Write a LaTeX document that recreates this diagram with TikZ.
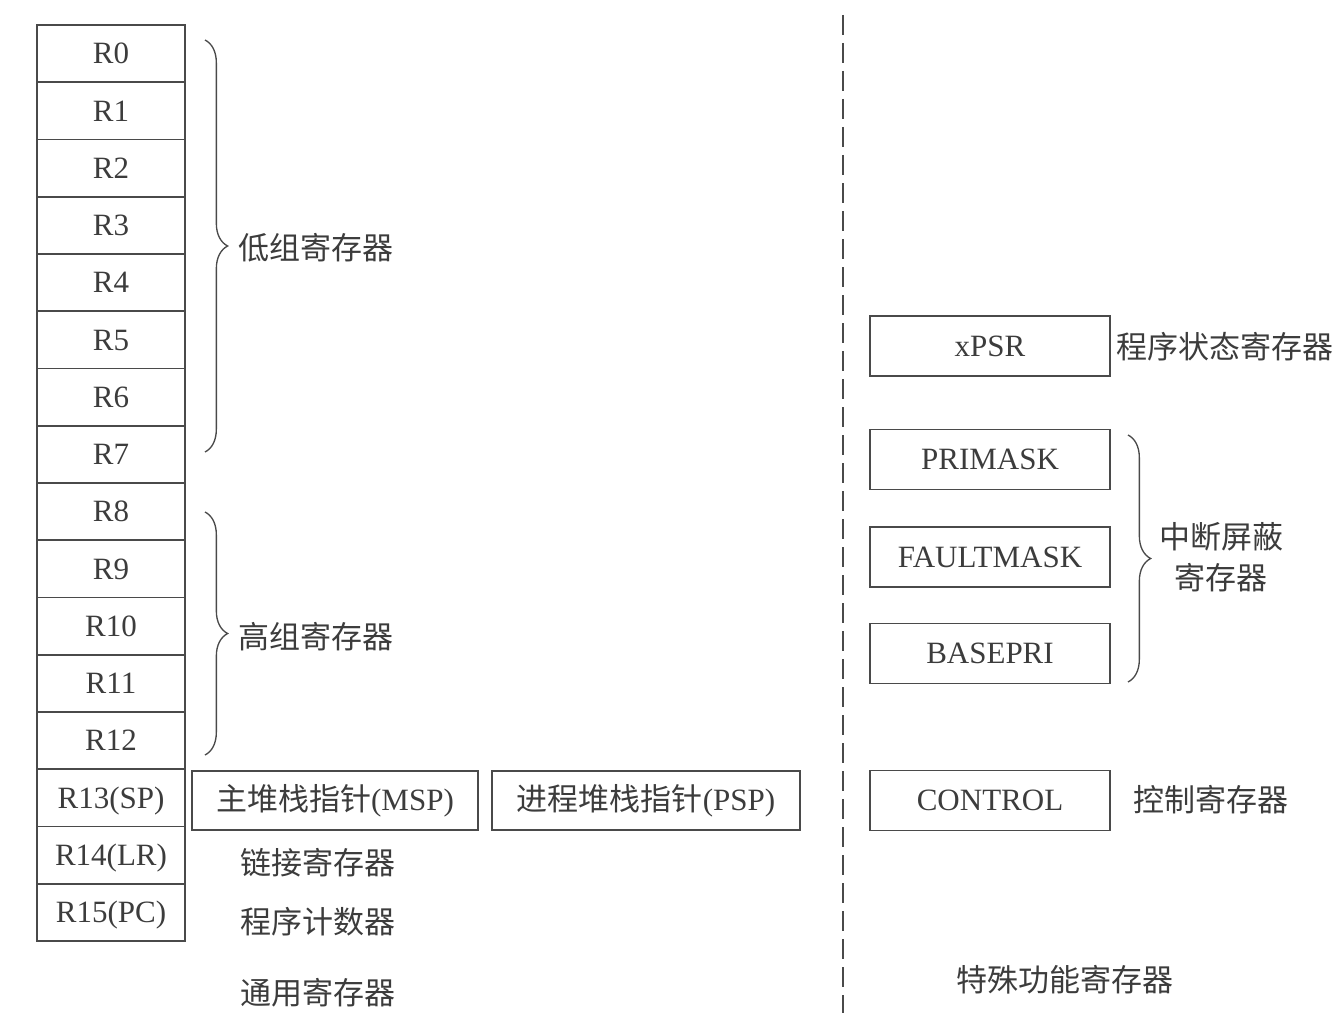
\documentclass[tikz,border=0pt]{standalone}
\usepackage{fontspec}
\setmainfont{Liberation Serif}
\newfontfamily\cjk{Noto Sans CJK SC}
\usetikzlibrary{decorations.pathreplacing}
\definecolor{ink}{HTML}{3C3C3C}
\definecolor{rule}{HTML}{4A4A4A}
\begin{document}
\begin{tikzpicture}[x=0.75pt,y=-0.75pt,
  every node/.style={font=\fontsize{23.25}{28}\selectfont, text=ink, inner sep=0pt},
  boxtext/.style={text height=15.4pt, text depth=0pt},
  regcell/.style={boxtext, draw=rule, line width=1.2pt, minimum width=111pt, minimum height=42.94pt},
  sfrbox/.style={boxtext, draw=rule, line width=1.2pt, minimum width=180pt, minimum height=45pt},
  spbox/.style={boxtext, draw=rule, line width=1.2pt, minimum height=44.25pt},
  curly/.style={draw=rule, line width=1pt, decorate, decoration={brace, amplitude=17pt}},
  divider/.style={draw=rule, line width=1pt, dash pattern=on 15pt off 6pt}]
\useasboundingbox (0,0) rectangle (1337,1013);

% general purpose register file
\foreach \i/\t in {0/R0,1/R1,2/R2,3/R3,4/R4,5/R5,6/R6,7/R7,8/R8,9/R9,
                   10/R10,11/R11,12/R12,13/R13(SP),14/R14(LR),15/R15(PC)}
  \node[regcell] (r\i) at (111,{25+57.25*(\i+0.5)}) {\t};

% low / high register groups
\draw[curly] (205,40) -- (205,452);
\node[anchor=west] (low) at (238,248) {\cjk 低组寄存器};
\draw[curly] (205,512) -- (205,755);
\node[anchor=west] (high) at (238,637) {\cjk 高组寄存器};

% banked stack pointers
\node[spbox, minimum width=214.5pt] (msp) at (335,800.5) {{\cjk 主堆栈指针}(MSP)};
\node[spbox, minimum width=231pt] (psp) at (646,800.5) {{\cjk 进程堆栈指针}(PSP)};

\node (lr) at (318,863) {\cjk 链接寄存器};
\node (pc) at (318,922) {\cjk 程序计数器};
\node (gpr) at (318,993) {\cjk 通用寄存器};

% separator
\coordinate (sepTop) at (843,15);
\coordinate (sepBot) at (843,1013);
\draw[divider] (sepTop) -- (sepBot);

% special function registers
\node[sfrbox] (xpsr) at (990,346) {xPSR};
\node[anchor=west] (xpsrl) at (1116,347) {\cjk 程序状态寄存器};

\node[sfrbox] (primask) at (990,459.5) {PRIMASK};
\node[sfrbox] (faultmask) at (990,557) {FAULTMASK};
\node[sfrbox] (basepri) at (990,653.5) {BASEPRI};
\draw[curly] (1128,435) -- (1128,682);
\node (maskl1) at (1221,537) {\cjk 中断屏蔽};
\node (maskl2) at (1221,578) {\cjk 寄存器};

\node[sfrbox] (control) at (990,800.5) {CONTROL};
\node[anchor=west] (controll) at (1133,800) {\cjk 控制寄存器};

\node (sfr) at (1065,980) {\cjk 特殊功能寄存器};
\end{tikzpicture}
\end{document}
